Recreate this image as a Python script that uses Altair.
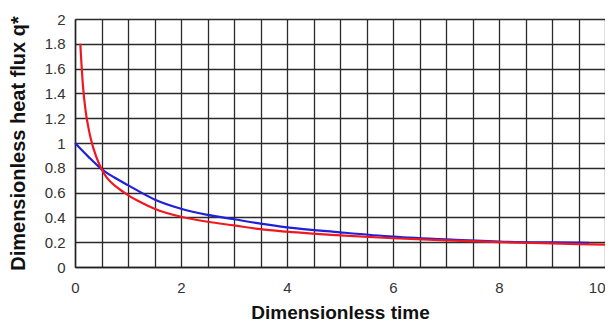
import altair as alt
import pandas as pd

red_t = [0.1, 0.15, 0.2, 0.25, 0.3, 0.4, 0.5, 0.6, 0.8, 1.0, 1.25, 1.5, 2.0, 2.5, 3.0, 3.5, 4.0, 5.0, 6.0, 7.0, 8.0, 9.0, 10.0]
red_q = [1.80, 1.46, 1.26, 1.13, 1.03, 0.89, 0.79, 0.72, 0.64, 0.58, 0.52, 0.47, 0.405, 0.365, 0.335, 0.305, 0.285, 0.255, 0.232, 0.215, 0.20, 0.19, 0.18]

blue_t = [0.0, 0.25, 0.5, 0.75, 1.0, 1.5, 2.0, 2.5, 3.0, 3.5, 4.0, 5.0, 6.0, 7.0, 8.0, 9.0, 9.7]
blue_q = [1.00, 0.89, 0.79, 0.72, 0.66, 0.545, 0.47, 0.42, 0.385, 0.35, 0.32, 0.28, 0.245, 0.222, 0.205, 0.198, 0.195]

x_grid = [0, 0.5, 1, 1.5, 2, 2.5, 3, 3.5, 4, 4.5, 5, 5.5, 6, 6.5, 7, 7.5, 8, 8.5, 9, 9.5, 10]
y_grid = [0, 0.2, 0.4, 0.6, 0.8, 1, 1.2, 1.4, 1.6, 1.8, 2]

df = pd.concat([
    pd.DataFrame({"t": blue_t, "q": blue_q, "s": "blue"}),
    pd.DataFrame({"t": red_t, "q": red_q, "s": "red"}),
])

FONT = "Liberation Sans"
GRID = "#2a2a2a"

x = alt.X("t:Q", scale=alt.Scale(domain=[0, 10], nice=False),
          axis=alt.Axis(values=x_grid, title="Dimensionless time",
                        labelExpr="datum.value % 2 == 0 ? datum.label : ''",
                        format="~g", grid=True, gridColor=GRID, gridWidth=1.3, gridOpacity=1,
                        ticks=False, labelPadding=13, labelFlush=False,
                        labelAlign={"condition": {"test": "datum.value == 10", "value": "right"}, "value": "center"},
                        labelFontSize=15, labelColor="#333", labelFont=FONT,
                        titleFont=FONT, titleFontSize=19, titleFontWeight="bold",
                        titleColor="#111", titleBaseline="alphabetic", titleY=51,
                        titleX=265, titleAlign="center",
                        domainColor="#222", domainWidth=1.5))
y = alt.Y("q:Q", scale=alt.Scale(domain=[0, 2], nice=False),
          axis=alt.Axis(values=y_grid, title="Dimensionless heat flux q*",
                        format="~g", grid=True, gridColor=GRID, gridWidth=1.3, gridOpacity=1,
                        ticks=False, labelPadding=10,
                        labelFontSize=15, labelColor="#333", labelFont=FONT,
                        titleFont=FONT, titleFontSize=20, titleFontWeight="bold",
                        titleColor="#111", titleAngle=-90, titleX=-57, titleY=124,
                        titleAlign="center", titleBaseline="middle",
                        domainColor="#222", domainWidth=1.5))

chart = alt.Chart(df).mark_line(strokeWidth=2.2, interpolate="monotone").encode(
    x=x, y=y,
    color=alt.Color("s:N", scale=alt.Scale(domain=["blue", "red"], range=["#2020d8", "#f01820"]), legend=None),
).properties(
    width=530, height=248,
    autosize=alt.AutoSizeParams(type="none"),
    padding={"left": 67, "top": 11, "right": 0, "bottom": 58},
).configure_view(
    stroke="#999", strokeWidth=1.2,
).configure(background="white")

chart.save("out.html", embed_options={"renderer": "svg", "actions": False})
